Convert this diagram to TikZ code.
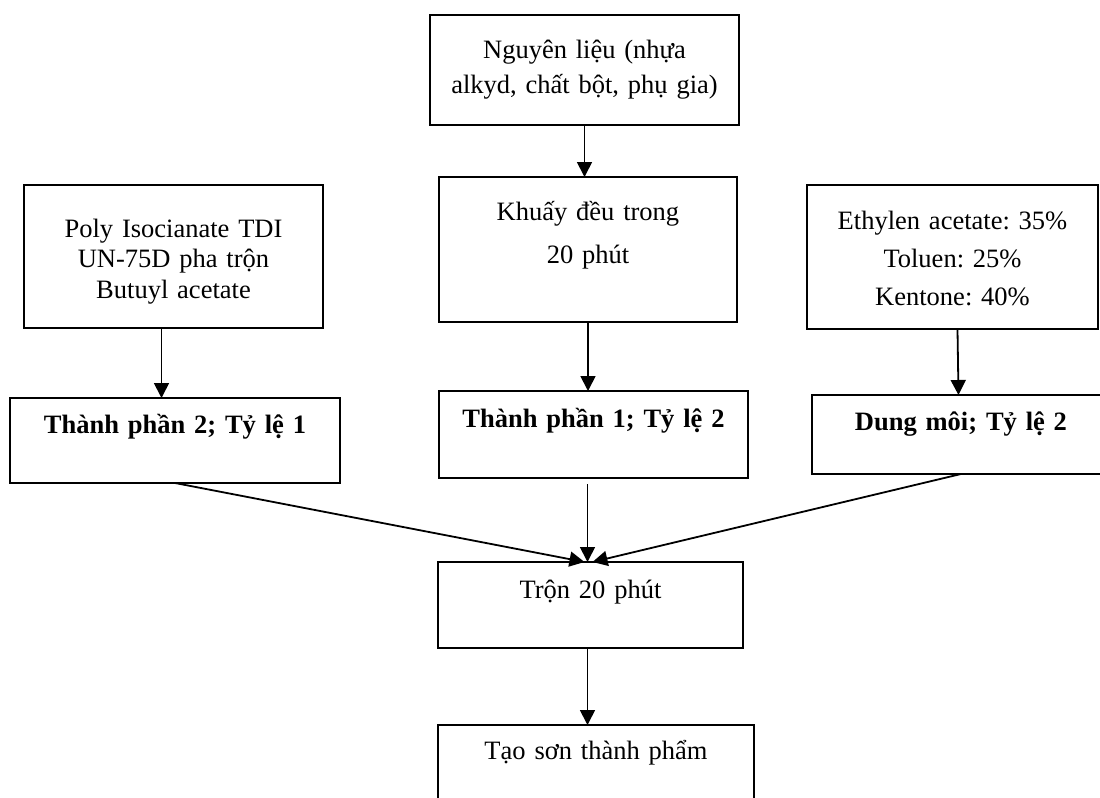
\documentclass[tikz,border=0pt]{standalone}
\usepackage{fontspec}
\setmainfont{Liberation Serif}
\usepackage{tikz}
\usetikzlibrary{arrows.meta}
\frenchspacing

\tikzset{
  box/.style={draw, line width=0.9pt, inner sep=0pt, outer sep=0pt, anchor=north west, align=center},
  flow/.style={-{Triangle[width=7.5pt,length=7.5pt]}, line width=0.9pt}
}
\newcommand{\txtfont}[1]{\fontsize{13.25pt}{#1}\selectfont}

\begin{document}
\begin{tikzpicture}[x=1pt,y=1pt]
\useasboundingbox (0,0) rectangle (550,-399);
\clip (0,0) rectangle (550,-399);
% hang tren
\node[box, text width=154.5pt, text height=21.5pt, text depth=33.5pt, font=\txtfont{17.5pt}] (nl) at (215,-7.5)
  {Nguyên liệu (nhựa\\alkyd, chất bột, phụ gia)};
\node[box, text width=149.5pt, text height=26pt, text depth=45.5pt, font=\txtfont{15.25pt}] (poly) at (12,-92.5)
  {Poly Isocianate TDI\\UN-75D pha trộn\\Butuyl acetate};
\node[box, text width=149pt, text height=21.5pt, text depth=51pt, font=\txtfont{21.5pt}] (khuay) at (219.5,-88.5)
  {Khuấy đều trong\\20 phút};
\node[box, text width=145.5pt, text height=22pt, text depth=50pt, font=\txtfont{19pt}] (ethyl) at (403.5,-92.5)
  {Ethylen acetate: 35\%\\Toluen: 25\%\\Kentone: 40\%};
% thanh phan
\node[box, text width=165pt, text height=17.5pt, text depth=25pt, font=\txtfont{16pt}\bfseries] (tp2) at (5,-199)
  {Thành phần 2; Tỷ lệ 1};
\node[box, text width=154.5pt, text height=18pt, text depth=25.5pt, font=\txtfont{16pt}\bfseries] (tp1) at (219.5,-195.5)
  {Thành phần 1; Tỷ lệ 2};
\node[box, text width=149pt, text height=17.5pt, text depth=22pt, font=\txtfont{16pt}\bfseries] (dm) at (406,-197.5)
  {Dung môi; Tỷ lệ 2};
% tron va thanh pham
\node[box, text width=152.5pt, text height=18pt, text depth=25pt, font=\txtfont{16pt}] (tron) at (219,-281)
  {Trộn 20 phút};
\node[box, text width=158pt, text height=17pt, text depth=28pt, font=\txtfont{16pt}] (tao) at (219,-362.5)
  {Tạo sơn thành phẩm};

\draw[flow] (nl.south) -- (nl.south |- khuay.north);
\draw[flow] ([xshift=-6pt]poly.south) -- ([xshift=-6pt]poly.south |- tp2.north);
\draw[flow] (khuay.south) -- (khuay.south |- tp1.north);
\draw[flow] ([xshift=2.5pt]ethyl.south) -- ([xshift=3pt]ethyl.south |- dm.north);

\draw[flow] (tp2.south) -- ([xshift=-3pt]tron.north);
\draw[flow] ([xshift=-1.5pt,yshift=-3pt]tron.north |- tp1.south) -- ([xshift=-1.5pt]tron.north);
\draw[flow] (dm.south) -- ([xshift=1pt]tron.north);
\draw[flow] ([xshift=-1.5pt]tron.south) -- ([xshift=-1.5pt]tron.south |- tao.north);
\end{tikzpicture}
\end{document}
